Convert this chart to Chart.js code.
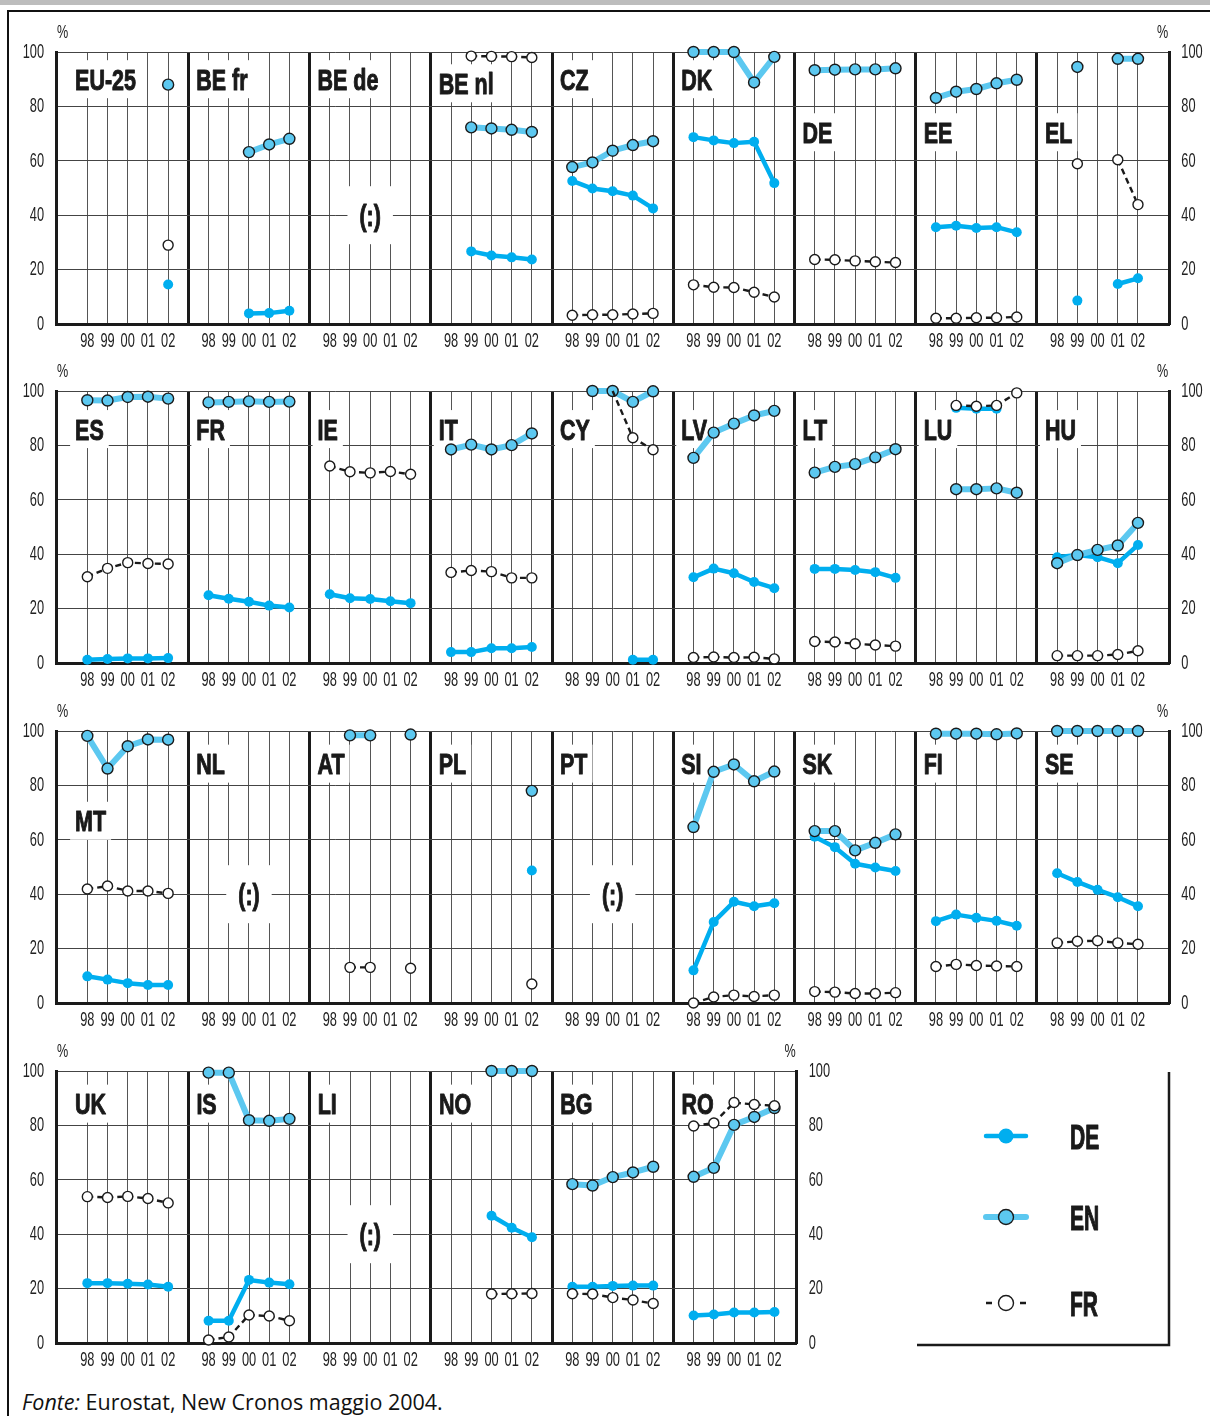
<!DOCTYPE html>
<html>
<head>
<meta charset="utf-8">
<title>DE / EN / FR 1998-2002</title>
<script src="https://cdn.jsdelivr.net/npm/chart.js@4.4.1/dist/chart.umd.min.js"></script>
<style>
  html, body { margin: 0; padding: 0; background: #fff; }
  body { width: 1210px; height: 1416px; position: relative; overflow: hidden; }
  #topbar { position: absolute; left: 0; top: 0; width: 1210px; height: 5px; background: #bdbdbd; }
  #frame { position: absolute; left: 7px; top: 10px; width: 1300px; height: 1500px;
           border-left: 2px solid #111; border-top: 2px solid #111; }
  canvas.row { position: absolute; left: 0; }
  #source { position: absolute; left: 22px; top: 1391px; font-family: "Open Sans", "Noto Sans", sans-serif;
            font-size: 21.5px; line-height: 22px; color: #111; white-space: nowrap; }
</style>
</head>
<body>
<div id="topbar"></div>
<div id="frame"></div>
<div id="source"><i>Fonte:</i> Eurostat, New Cronos maggio 2004.</div>

<script>
// ---------------- data ----------------
const years = ['98', '99', '00', '01', '02'];
const yTicks = [0, 20, 40, 60, 80, 100];

const row1Countries = ['EU-25', 'BE fr', 'BE de', 'BE nl', 'CZ', 'DK', 'DE', 'EE', 'EL'];
const row1DE = [
  [null, null, null, null, 14.5],
  [null, null, 3.9, 4.0, 4.9],
  [null, null, null, null, null],
  [null, 26.7, 25.2, 24.5, 23.7],
  [52.6, 49.8, 48.8, 47.2, 42.5],
  [68.7, 67.5, 66.5, 67.0, 51.8],
  [null, null, null, null, null],
  [35.6, 36.1, 35.3, 35.6, 33.7],
  [null, 8.6, null, 14.7, 16.8]
];
const row1EN = [
  [null, null, null, null, 88.0],
  [null, null, 63.2, 66.0, 68.1],
  [null, null, null, null, null],
  [null, 72.3, 71.9, 71.4, 70.6],
  [57.7, 59.4, 63.7, 65.8, 67.2],
  [100, 100, 100, 88.8, 98.2],
  [93.3, 93.5, 93.6, 93.6, 94.0],
  [83.1, 85.4, 86.4, 88.5, 89.8],
  [null, 94.5, null, 97.5, 97.5]
];
const row1FR = [
  [null, null, null, null, 29.0],
  [null, null, null, null, null],
  [null, null, null, null, null],
  [null, 98.5, 98.4, 98.3, 98.0],
  [3.2, 3.4, 3.4, 3.7, 3.9],
  [14.4, 13.5, 13.4, 11.7, 9.9],
  [23.7, 23.6, 23.2, 22.9, 22.6],
  [2.1, 2.1, 2.3, 2.3, 2.6],
  [null, 58.9, null, 60.4, 43.9]
];

const row2Countries = ['ES', 'FR', 'IE', 'IT', 'CY', 'LV', 'LT', 'LU', 'HU'];
const row2DE = [
  [1.2, 1.5, 1.7, 1.7, 1.8],
  [24.9, 23.6, 22.5, 21.1, 20.4],
  [25.3, 23.8, 23.5, 22.7, 22.0],
  [4.0, 4.0, 5.4, 5.4, 5.9],
  [null, null, null, 1.2, 1.2],
  [31.5, 34.7, 33.0, 29.8, 27.5],
  [34.6, 34.6, 34.2, 33.4, 31.3],
  [null, 93.8, 93.5, 93.5, null],
  [38.9, 39.7, 38.9, 36.7, 43.4]
];
const row2EN = [
  [96.6, 96.5, 97.8, 97.9, 97.2],
  [95.8, 96.0, 96.2, 96.0, 96.1],
  [null, null, null, null, null],
  [78.5, 80.3, 78.5, 80.1, 84.4],
  [null, 100, 100, 96.0, 99.9],
  [75.4, 84.7, 88.0, 91.0, 92.7],
  [70.0, 72.1, 73.1, 75.6, 78.6],
  [null, 63.9, 63.9, 64.2, 62.6],
  [36.7, 39.7, 41.6, 43.2, 51.5]
];
const row2FR = [
  [31.7, 34.8, 36.9, 36.6, 36.4],
  [null, null, null, null, null],
  [72.4, 70.3, 69.9, 70.4, 69.4],
  [33.3, 34.0, 33.6, 31.3, 31.3],
  [null, null, 100, 82.8, 78.4],
  [2.0, 2.2, 2.0, 2.1, 1.5],
  [7.9, 7.7, 7.1, 6.6, 6.2],
  [null, 94.7, 94.4, 94.7, 99.3],
  [2.7, 2.7, 2.7, 3.1, 4.5]
];

const row3Countries = ['MT', 'NL', 'AT', 'PL', 'PT', 'SI', 'SK', 'FI', 'SE'];
const row3DE = [
  [9.8, 8.6, 7.3, 6.6, 6.6],
  [null, null, null, null, null],
  [null, null, null, null, null],
  [null, null, null, null, 48.7],
  [null, null, null, null, null],
  [12.0, 29.8, 37.2, 35.6, 36.7],
  [61.1, 57.3, 51.2, 49.8, 48.5],
  [30.1, 32.5, 31.3, 30.2, 28.4],
  [47.7, 44.5, 41.6, 38.9, 35.6]
];
const row3EN = [
  [98.2, 86.2, 94.4, 96.9, 96.8],
  [null, null, null, null, null],
  [null, 98.4, 98.4, null, 98.7],
  [null, null, null, null, 78.0],
  [null, null, null, null, null],
  [64.7, 85.0, 87.7, 81.5, 85.1],
  [63.2, 63.2, 56.1, 58.9, 62.0],
  [99.0, 99.0, 99.0, 98.8, 99.1],
  [100, 100, 100, 100, 100]
];
const row3FR = [
  [41.9, 43.0, 41.2, 41.2, 40.3],
  [null, null, null, null, null],
  [null, 13.1, 13.1, null, 12.8],
  [null, null, null, null, 7.0],
  [null, null, null, null, null],
  [0, 2.2, 2.9, 2.4, 2.9],
  [4.2, 4.0, 3.5, 3.5, 3.8],
  [13.4, 14.2, 13.8, 13.6, 13.4],
  [22.1, 22.7, 22.9, 22.1, 21.6]
];

const row4Countries = ['UK', 'IS', 'LI', 'NO', 'BG', 'RO'];
const row4DE = [
  [22.0, 22.0, 21.8, 21.5, 20.7],
  [8.2, 8.2, 23.2, 22.2, 21.6],
  [null, null, null, null, null],
  [null, null, 46.8, 42.4, 38.9],
  [20.7, 20.7, 21.0, 21.1, 21.1],
  [10.1, 10.5, 11.2, 11.2, 11.4]
];
const row4EN = [
  [null, null, null, null, null],
  [99.4, 99.4, 81.9, 81.7, 82.4],
  [null, null, null, null, null],
  [null, null, 100, 100, 100],
  [58.4, 57.9, 61.0, 62.7, 64.8],
  [61.1, 64.4, 80.2, 83.1, 86.4]
];
const row4FR = [
  [53.8, 53.5, 53.9, 53.1, 51.5],
  [1.1, 2.2, 10.3, 9.9, 8.2],
  [null, null, null, null, null],
  [null, null, 18.0, 18.1, 18.2],
  [18.1, 18.0, 16.7, 15.8, 14.5],
  [79.8, 80.9, 88.4, 87.7, 87.2]
];

const languages = ['DE', 'EN', 'FR'];

// ---------------- layout & style ----------------
const FONT = '"Liberation Sans", Arial, sans-serif';
const PAD_TOP = 44, PLOT_H = 272, AXIS_H = 40, LEFT_W = 56, PAGE_W = 1210;
const LABEL_SIZE = 29, LABEL_SQUEEZE = 0.74;
const TICK_SIZE = 21, TICK_SQUEEZE = 0.61;

const rowLayout = [
  { top: 52,   xMax: 54.55, right: 1169.3, labelLevel: 90 },
  { top: 391,  xMax: 54.55, right: 1169.3, labelLevel: 86 },
  { top: 731,  xMax: 54.55, right: 1169.3, labelLevel: 88 },
  { top: 1071, xMax: 36.1,  right: 796.7,  labelLevel: 88 }
];
const labelLevelOverride = { 'BE nl': 88.5, 'DE': 70.5, 'EE': 70.5, 'EL': 70.5, 'MT': 67 };

const styles = {
  DE: { borderColor: '#00aeef', borderWidth: 4.5, pointRadius: 5, pointBackgroundColor: '#00aeef',
        pointBorderColor: '#00aeef', pointBorderWidth: 0 },
  EN: { borderColor: '#5cc8f0', borderWidth: 6, pointRadius: 5.5, pointBackgroundColor: '#5cc8f0',
        pointBorderColor: '#1a1a1a', pointBorderWidth: 1.4 },
  FR: { borderColor: '#1a1a1a', borderWidth: 2.4, borderDash: [6, 4], pointRadius: 5,
        pointBackgroundColor: '#ffffff', pointBorderColor: '#1a1a1a', pointBorderWidth: 1.4 }
};

const rows = [
  { countries: row1Countries, DE: row1DE, EN: row1EN, FR: row1FR },
  { countries: row2Countries, DE: row2DE, EN: row2EN, FR: row2FR },
  { countries: row3Countries, DE: row3DE, EN: row3EN, FR: row3FR },
  { countries: row4Countries, DE: row4DE, EN: row4EN, FR: row4FR }
];

// linear scale whose tick labels are drawn horizontally condensed
class CondensedLinearScale extends Chart.LinearScale {
  drawLabels(chartArea) {
    if (!this.options.display) return;
    const ctx = this.ctx;
    for (const item of this.getLabelItems(chartArea)) {
      const o = item.options;
      const [tx, ty] = o.translation;
      ctx.save();
      ctx.font = item.font.string;
      ctx.fillStyle = o.color;
      ctx.textAlign = o.textAlign;
      ctx.textBaseline = o.textBaseline;
      ctx.translate(tx, ty);
      ctx.scale(TICK_SQUEEZE, 1);
      const lines = Array.isArray(item.label) ? item.label : [item.label];
      lines.forEach((l, i) => ctx.fillText(l, 0, item.textOffset + i * item.font.lineHeight));
      ctx.restore();
    }
  }
}
CondensedLinearScale.id = 'condensedLinear';
CondensedLinearScale.defaults = Chart.LinearScale.defaults;
Chart.register(CondensedLinearScale);

// condensed heavy text: filled and lightly stroked in the same colour
function squeezedText(ctx, text, x, y, squeeze, heavy) {
  ctx.save();
  ctx.translate(x, y);
  ctx.scale(squeeze, 1);
  ctx.fillText(text, 0, 0);
  if (heavy) {
    ctx.strokeStyle = ctx.fillStyle;
    ctx.lineWidth = heavy;
    ctx.lineJoin = 'round';
    ctx.strokeText(text, 0, 0);
  }
  ctx.restore();
}

// each panel occupies 6 x-units; years sit at 1..5, a null point breaks the line between panels
function seriesPoints(panels) {
  const pts = [];
  panels.forEach((vals, p) => {
    vals.forEach((v, i) => pts.push({ x: p * 6 + i + 1, y: v }));
    pts.push({ x: p * 6 + 6, y: null });
  });
  return pts;
}

function panelLabelPlugin(def, lay) {
  return {
    id: 'panelLabels',
    beforeDatasetsDraw(chart) {
      const { ctx, chartArea } = chart;
      const xs = chart.scales.x, ys = chart.scales.y;
      ctx.save();
      ctx.font = `bold ${LABEL_SIZE}px ${FONT}`;
      ctx.textAlign = 'left';
      ctx.textBaseline = 'alphabetic';
      def.countries.forEach((name, p) => {
        const level = labelLevelOverride[name] !== undefined ? labelLevelOverride[name] : lay.labelLevel;
        const yc = ys.getPixelForValue(level);
        const xl = xs.getPixelForValue(p * 6) + 8;
        const w = ctx.measureText(name).width * LABEL_SQUEEZE;
        ctx.fillStyle = '#fff';
        ctx.fillRect(xl - 5, yc - 19, w + 10, 38);
        ctx.fillStyle = '#1a1a1a';
        squeezedText(ctx, name, xl, yc + LABEL_SIZE * 0.36, LABEL_SQUEEZE, 1);

        const empty = languages.every(l => def[l][p].every(v => v === null));
        if (empty) {
          const xc = xs.getPixelForValue(p * 6 + 3);
          const y40 = ys.getPixelForValue(40);
          const t = '(:)';
          const tw = ctx.measureText(t).width * LABEL_SQUEEZE;
          ctx.fillStyle = '#fff';
          ctx.fillRect(xc - tw / 2 - 12, y40 - 29, tw + 24, 58);
          ctx.fillStyle = '#1a1a1a';
          squeezedText(ctx, t, xc - tw / 2, y40 + LABEL_SIZE * 0.36, LABEL_SQUEEZE, 1);
        }
      });
      ctx.font = `18px ${FONT}`;
      ctx.fillStyle = '#222';
      ctx.textBaseline = 'middle';
      ctx.textAlign = 'left';
      squeezedText(ctx, '%', chartArea.left + 1, chartArea.top - 19, 0.7);
      ctx.textAlign = 'right';
      squeezedText(ctx, '%', chartArea.right - 1, chartArea.top - 19, 0.7);
      ctx.restore();
    }
  };
}

// legend box drawn beside the last row, using the datasets' own styles
const legendPlugin = {
  id: 'languageLegend',
  afterDraw(chart) {
    const { ctx, chartArea } = chart;
    const canvasTop = parseFloat(chart.canvas.style.top);
    const boxLeft = 917, boxRight = 1169;
    const bottom = chartArea.bottom + 2;
    ctx.save();
    ctx.strokeStyle = '#1a1a1a';
    ctx.lineWidth = 2.5;
    ctx.beginPath();
    ctx.moveTo(boxLeft, bottom);
    ctx.lineTo(boxRight, bottom);
    ctx.lineTo(boxRight, chartArea.top + 1);
    ctx.stroke();

    const entries = [
      { lang: 'DE', y: 1136 - canvasTop },
      { lang: 'EN', y: 1217 - canvasTop },
      { lang: 'FR', y: 1303 - canvasTop }
    ];
    entries.forEach(e => {
      const ds = chart.data.datasets.find(d => d.label === e.lang);
      const cx = 1006, x0 = 986, x1 = 1026;
      ctx.save();
      ctx.strokeStyle = ds.borderColor;
      ctx.lineWidth = ds.borderWidth;
      ctx.lineCap = e.lang === 'FR' ? 'butt' : 'round';
      ctx.beginPath();
      if (e.lang === 'FR') {
        ctx.moveTo(x0, e.y); ctx.lineTo(x0 + 6, e.y);
        ctx.moveTo(x1 - 6, e.y); ctx.lineTo(x1, e.y);
      } else {
        ctx.moveTo(x0, e.y); ctx.lineTo(x1, e.y);
      }
      ctx.stroke();
      ctx.beginPath();
      ctx.arc(cx, e.y, 7.5, 0, Math.PI * 2);
      ctx.fillStyle = ds.pointBackgroundColor;
      ctx.fill();
      if (ds.pointBorderWidth > 0) {
        ctx.lineWidth = ds.pointBorderWidth;
        ctx.strokeStyle = ds.pointBorderColor;
        ctx.stroke();
      }
      ctx.restore();
      ctx.fillStyle = '#1a1a1a';
      ctx.font = `bold 35px ${FONT}`;
      ctx.textAlign = 'left';
      ctx.textBaseline = 'alphabetic';
      squeezedText(ctx, e.lang, 1070, e.y + 35 * 0.36, 0.6, 1.2);
    });
    ctx.restore();
  }
};

function makeRowChart(r) {
  const def = rows[r], lay = rowLayout[r];
  const n = def.countries.length;
  const H = PAD_TOP + PLOT_H + AXIS_H;
  const canvas = document.createElement('canvas');
  canvas.className = 'row';
  canvas.width = PAGE_W;
  canvas.height = H;
  canvas.style.width = PAGE_W + 'px';
  canvas.style.height = H + 'px';
  canvas.style.top = (lay.top - PAD_TOP) + 'px';
  document.body.appendChild(canvas);

  const tickVals = [];
  for (let v = 1; v < n * 6; v++) tickVals.push(v);

  const enPoints = seriesPoints(def.EN);

  // FR first so that it is painted on top, DE last (painted first)
  const datasets = ['FR', 'EN', 'DE'].map(l => Object.assign({
    label: l,
    data: seriesPoints(def[l]),
    spanGaps: false,
    tension: 0,
    clip: false,
    borderJoinStyle: 'round',
    xAxisID: 'x',
    yAxisID: 'y'
  }, styles[l]));

  // an FR marker sitting exactly on an EN marker stays hidden beneath it
  datasets[0].pointRadius = c => {
    const en = enPoints[c.dataIndex];
    const fr = c.raw;
    if (en && fr && en.y !== null && fr.y !== null && Math.abs(en.y - fr.y) < 0.3) return 0;
    return styles.FR.pointRadius;
  };

  const tickFont = { family: FONT, size: TICK_SIZE };
  const plugins = [panelLabelPlugin(def, lay)];
  if (r === 3) plugins.push(legendPlugin);

  return new Chart(canvas, {
    type: 'line',
    data: { datasets },
    plugins,
    options: {
      responsive: false,
      animation: false,
      devicePixelRatio: 1,
      events: [],
      layout: { padding: { top: PAD_TOP, left: 0, right: 0, bottom: 0 } },
      plugins: { legend: { display: false }, tooltip: { enabled: false } },
      scales: {
        x: {
          type: 'condensedLinear',
          bounds: 'data',
          min: -0.55,
          max: lay.xMax,
          afterBuildTicks: s => { s.ticks = tickVals.map(v => ({ value: v })); },
          afterFit: s => { s.height = AXIS_H; },
          ticks: {
            autoSkip: false, maxRotation: 0, minRotation: 0, padding: 5,
            font: tickFont, color: '#222',
            callback: v => (v % 6 === 0 ? '' : years[(v % 6) - 1])
          },
          grid: {
            drawTicks: false,
            color: c => (c.tick && c.tick.value % 6 === 0 ? '#1a1a1a' : '#555'),
            lineWidth: c => (c.tick && c.tick.value % 6 === 0 ? 3 : 1)
          },
          border: { display: true, color: '#1a1a1a', width: 3 }
        },
        y: {
          type: 'condensedLinear',
          position: 'left',
          min: 0, max: 100,
          afterBuildTicks: s => { s.ticks = yTicks.map(v => ({ value: v })); },
          afterFit: s => { s.width = LEFT_W; },
          ticks: { padding: 12, font: tickFont, color: '#222' },
          grid: {
            drawTicks: false,
            color: c => (c.tick && c.tick.value === 0 ? 'rgba(0,0,0,0)' : '#444'),
            lineWidth: 1
          },
          border: { display: true, color: '#1a1a1a', width: 3 }
        },
        yR: {
          type: 'condensedLinear',
          position: 'right',
          min: 0, max: 100,
          afterBuildTicks: s => { s.ticks = yTicks.map(v => ({ value: v })); },
          afterFit: s => { s.width = PAGE_W - lay.right; },
          ticks: { padding: 12, font: tickFont, color: '#222' },
          grid: { drawTicks: false, drawOnChartArea: false },
          border: { display: true, color: '#1a1a1a', width: 3 }
        }
      }
    }
  });
}

for (let r = 0; r < rows.length; r++) makeRowChart(r);
</script>
</body>
</html>
